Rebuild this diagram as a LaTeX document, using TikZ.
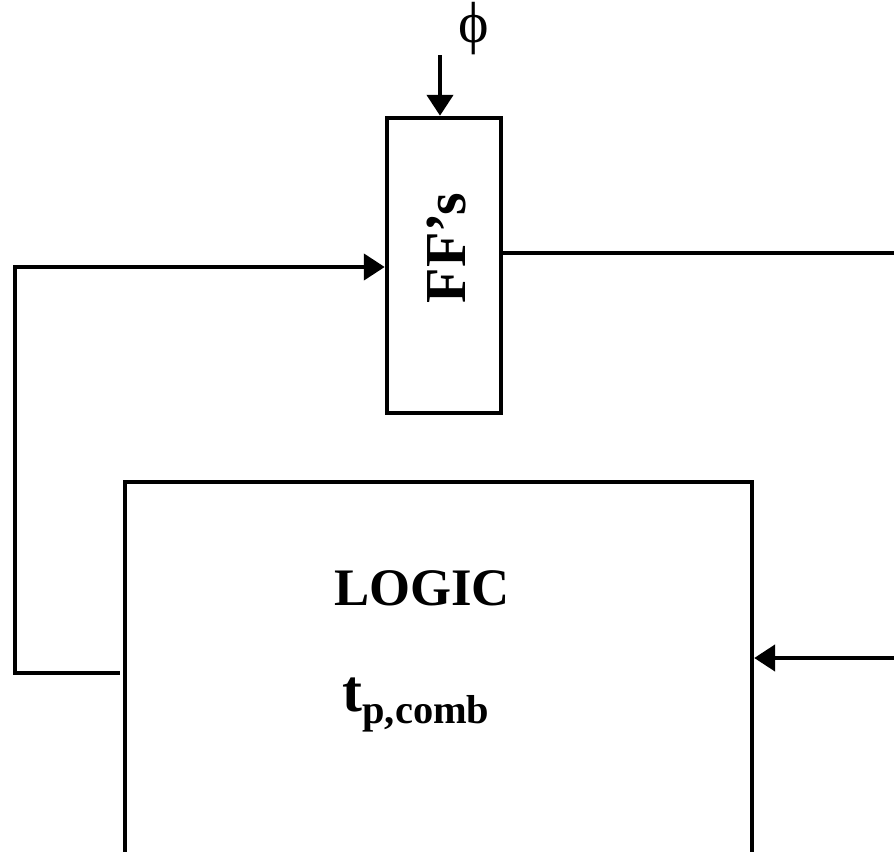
\documentclass[tikz,border=0pt]{standalone}
\usepackage{fontspec}
\setmainfont{Liberation Serif}
\usetikzlibrary{positioning, arrows.meta}

\begin{document}
\begin{tikzpicture}[
    x=0.02cm, y=-0.02cm,
    wire/.style={line width=0.09cm},
    arr/.style={wire, -{Triangle[length=0.42cm, width=0.52cm]}},
    box/.style={rectangle, draw, line width=0.09cm, inner sep=0pt},
    big/.style={font=\fontsize{30}{36}\selectfont\bfseries},
]
    \useasboundingbox (0,0) rectangle (894,852);
    \clip (0,0) rectangle (894,852);

    % flip-flops and logic block (open at the bottom)
    \node[box, minimum width=2.28cm, minimum height=5.9cm] (ffs) at (444,265.5) {};
    \node[big, font=\fontsize{33}{36}\selectfont\bfseries, rotate=90] (ffslabel) at (447,248) {FF’s};
    \node[box, minimum width=12.54cm, minimum height=10cm] (logic) at (438.5,732) {};
    \node[big] (logiclabel) at (422,588) {LOGIC};
    \node[big, font=\fontsize{34}{38}\selectfont\bfseries] (tp) at (416,705) {t{\fontsize{23}{26}\selectfont\raisebox{-0.3em}{p,comb}}};

    % clock
    \node[font=\fontsize{33}{36}\selectfont] (phi) at (474,29) {ϕ};
    \coordinate (clk) at (440,55);
    \draw[arr] (clk) -- (clk |- ffs.north);

    % output and input lines
    \coordinate (out) at (894,253);
    \draw[wire] (ffs.east |- out) -- (out);
    \coordinate (in) at (894,658);
    \draw[arr] (in) -- (logic.east |- in);

    % feedback path
    \coordinate (fbl) at (15,673);
    \coordinate (fbu) at (15,267);
    \draw[arr] ([xshift=-0.06cm]logic.west |- fbl) -- (fbl) -- (fbu) -- (ffs.west |- fbu);
\end{tikzpicture}
\end{document}
